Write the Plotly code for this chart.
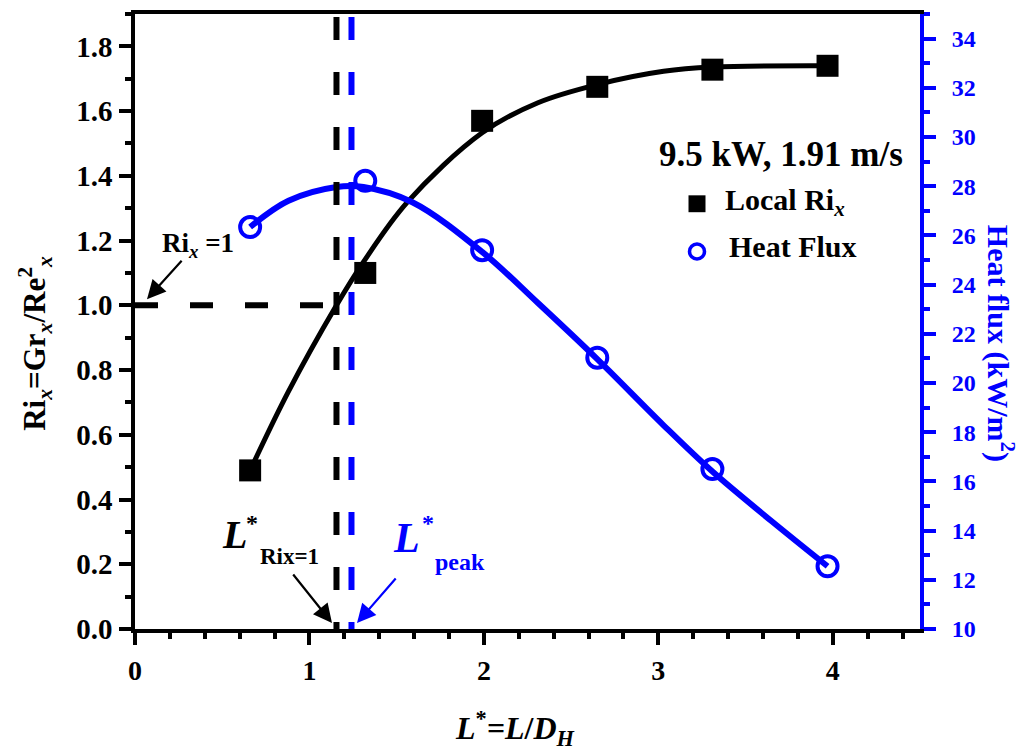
import plotly.graph_objects as go

# ---------------- data ----------------
ri_x = [0.66, 1.32, 1.99, 2.65, 3.31, 3.97]
ri_y = [0.49, 1.10, 1.57, 1.675, 1.728, 1.74]
hf_x = [0.66, 1.32, 1.99, 2.65, 3.31, 3.97]
hf_y = [26.34, 28.22, 25.40, 21.03, 16.50, 12.55]

# smooth fitted curves
ri_fit_x = [0.66, 0.88, 1.155, 1.31, 1.56, 1.99, 2.31, 2.65, 3.03, 3.31, 3.97]
ri_fit_y = [0.49, 0.734, 1.0, 1.134, 1.318, 1.533, 1.626, 1.682, 1.723, 1.736, 1.740]
hf_fit_x = [0.66, 0.88, 1.155, 1.31, 1.59, 1.99, 2.31, 2.65, 3.03, 3.31, 3.65, 3.97]
hf_fit_y = [26.34, 27.41, 27.97, 27.97, 27.35, 25.33, 23.25, 20.97, 18.28, 16.40, 14.38, 12.55]

L_ri1 = 1.155      # L* where Ri_x = 1
L_peak = 1.241     # L* at heat-flux peak
ri_threshold = 1.0

# ---------------- geometry helpers ----------------
W, H = 1023, 753
PL, PR, PT, PB = 135, 920, 10, 629


def px(x):
    return (x - PL) / (PR - PL)


def py(y):
    return (PB - y) / (PB - PT)


FONT = "Liberation Serif, Times New Roman, serif"
BLUE = "#0000ff"

fig = go.Figure()

# curves
fig.add_trace(go.Scatter(x=hf_fit_x, y=hf_fit_y, mode="lines", yaxis="y2",
                         line=dict(color=BLUE, width=6, shape="spline", smoothing=1.0),
                         showlegend=False, hoverinfo="skip"))
fig.add_trace(go.Scatter(x=ri_fit_x, y=ri_fit_y, mode="lines",
                         line=dict(color="black", width=5, shape="spline", smoothing=1.0),
                         showlegend=False, hoverinfo="skip"))
# markers
fig.add_trace(go.Scatter(x=ri_x, y=ri_y, mode="markers", name="Local Ri",
                         marker=dict(symbol="square", size=22, color="black"),
                         showlegend=False))
fig.add_trace(go.Scatter(x=hf_x, y=hf_y, mode="markers", name="Heat Flux", yaxis="y2",
                         marker=dict(symbol="circle-open", size=20, color=BLUE,
                                     line=dict(width=4, color=BLUE)),
                         showlegend=False))

shapes = [
    dict(type="line", xref="x", yref="paper", x0=L_ri1, x1=L_ri1, y0=0.995, y1=0,
         line=dict(color="black", width=6, dash="23px,32px")),
    dict(type="line", xref="x", yref="paper", x0=L_peak, x1=L_peak, y0=0.995, y1=0,
         line=dict(color=BLUE, width=6, dash="23px,32px")),
    dict(type="line", xref="x", yref="y", x0=0, x1=L_ri1, y0=ri_threshold, y1=ri_threshold,
         line=dict(color="black", width=6, dash="23px,32px")),
    # legend symbols
    dict(type="rect", xref="paper", yref="paper", x0=px(688.5), x1=px(705.5),
         y0=py(209.5), y1=py(192.5), fillcolor="black", line=dict(width=0)),
    dict(type="circle", xref="paper", yref="paper", x0=px(689.5), x1=px(704.5),
         y0=py(256.5), y1=py(241.5), line=dict(color=BLUE, width=3.5)),
]

ann = []


def txt(text, x, y, size, color="black", xanchor="center", yanchor="middle", angle=0):
    ann.append(dict(text=text, x=px(x), y=py(y), xref="paper", yref="paper",
                    xanchor=xanchor, yanchor=yanchor, showarrow=False, textangle=angle,
                    font=dict(family=FONT, size=size, color=color)))


def arrow(xh, yh, xt, yt, color):
    ann.append(dict(text="", x=px(xh), y=py(yh), xref="paper", yref="paper",
                    ax=xt - xh, ay=yt - yh, axref="pixel", ayref="pixel",
                    showarrow=True, arrowhead=2, arrowsize=1.7, arrowwidth=2.2,
                    arrowcolor=color, standoff=0, startstandoff=0))


txt("<b>9.5 kW, 1.91 m/s</b>", 781, 151, 35)
txt("<b>Local Ri<sub><i>x</i></sub></b>", 723, 199, 30, xanchor="left")
txt("<b>Heat Flux</b>", 727, 244, 30, xanchor="left")

txt("<b>Ri<sub><i>x</i></sub> =1</b>", 160, 242, 27, xanchor="left")
arrow(147, 297, 183, 257, "black")

txt("<b><i>L</i></b>", 234, 534, 40)
txt("<b>*</b>", 252, 522, 24)
txt("<b>Rix=1</b>", 289, 556, 23)
arrow(332, 623, 292, 573, "black")

txt("<b><i>L</i></b>", 406, 537, 42, color=BLUE)
txt("<b>*</b>", 428, 522, 24, color=BLUE)
txt("<b>peak</b>", 460, 562, 24, color=BLUE)
arrow(357, 623, 397, 577, BLUE)

# axis titles
txt("<b><i>L</i><sup>*</sup><i>=L</i>/<i>D</i><sub><i>H</i></sub></b>", 515, 729, 32)
txt("<b>Ri<sub><i>x</i></sub>=Gr<sub><i>x</i></sub>/Re<sup>2</sup><sub><i>x</i></sub></b>",
    35, 342, 31, angle=-90)
txt("<b>Heat flux (kW/m<sup>2</sup>)</b>", 1000, 341, 30, color=BLUE, angle=90)

fig.update_layout(
    width=W, height=H,
    margin=dict(l=PL, r=W - PR, t=PT, b=H - PB, pad=0),
    paper_bgcolor="white", plot_bgcolor="white",
    showlegend=False,
    shapes=shapes, annotations=ann,
    xaxis=dict(range=[0, 4.5], dtick=1, tick0=0, showgrid=False, zeroline=False,
               showline=True, linecolor="black", linewidth=3.5, mirror=True,
               ticks="outside", ticklen=12, tickwidth=3.5, tickcolor="black",
               ticklabelstandoff=2,
               minor=dict(dtick=0.2, ticks="outside", ticklen=6, tickwidth=3.5,
                          tickcolor="black", showgrid=False),
               tickfont=dict(family=FONT, size=28, color="black", weight="bold")),
    yaxis=dict(range=[0, 1.9], dtick=0.2, tick0=0, tickformat=".1f",
               showgrid=False, zeroline=False,
               showline=True, linecolor="black", linewidth=3.5,
               ticks="outside", ticklen=12, tickwidth=3.5, tickcolor="black",
               ticklabelstandoff=1,
               minor=dict(dtick=0.1, ticks="outside", ticklen=6, tickwidth=3.5,
                          tickcolor="black", showgrid=False),
               tickfont=dict(family=FONT, size=29, color="black", weight="bold")),
    yaxis2=dict(range=[10, 35], dtick=2, tick0=10, overlaying="y", side="right",
                showgrid=False, zeroline=False,
                showline=True, linecolor=BLUE, linewidth=4,
                ticks="outside", ticklen=12, tickwidth=3.5, tickcolor=BLUE,
                ticklabelstandoff=11,
                minor=dict(dtick=1, ticks="outside", ticklen=6, tickwidth=3.5,
                           tickcolor=BLUE, showgrid=False),
                tickfont=dict(family=FONT, size=24, color=BLUE, weight="bold")),
)

fig.write_html("out.html")
